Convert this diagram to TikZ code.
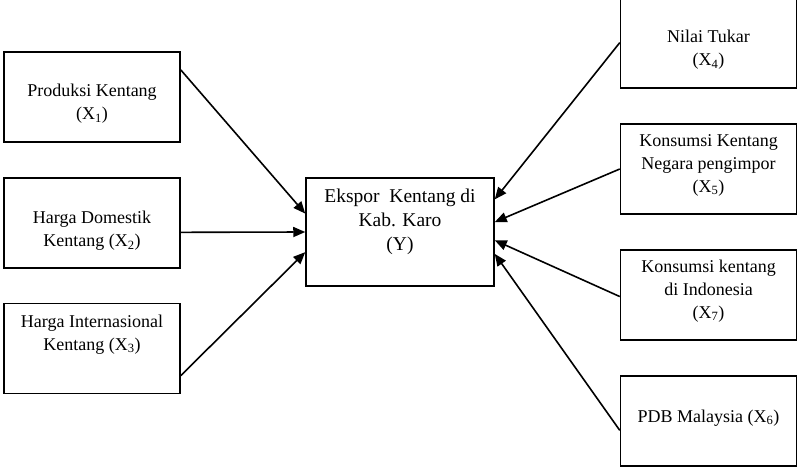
\documentclass[tikz,border=0pt]{standalone}
\usepackage{fontspec}
\setmainfont{Liberation Serif}
\usetikzlibrary{arrows.meta,calc}

\begin{document}
\begin{tikzpicture}[
    x=1pt, y=-1pt,
    var/.style={rectangle, draw, line width=1.5pt, inner sep=0pt,
        minimum width=176pt, minimum height=90pt},
    target/.style={rectangle, draw, line width=1.5pt, inner sep=0pt,
        minimum width=188pt, minimum height=108pt},
    caption/.style={align=center, inner sep=0pt, font=\fontsize{18}{23}\selectfont},
    link/.style={line width=1.6pt, -{Triangle[length=12pt,width=10pt]}}
]
% Frame
\clip (0,0) rectangle (802,468);

% Left variables
\node[var] (x1) at (92,97) {};
\node[var] (x2) at (92,223) {};
\node[var] (x3) at (92,348.5) {};
\node[caption] (x1t) at ($(x1)+(0,7)$) {Produksi Kentang\\(X\textsubscript{1})};
\node[caption] (x2t) at ($(x2)+(0,8)$) {Harga Domestik\\Kentang (X\textsubscript{2})};
\node[caption] (x3t) at ($(x3)+(0,-14)$) {Harga Internasional\\Kentang (X\textsubscript{3})};

% Dependent variable
\node[target] (y) at (400,232) {};
\node[caption, font=\fontsize{19.5}{24}\selectfont] (yt) at ($(y)+(0,-10)$)
    {Ekspor\ \ Kentang di\\Kab. Karo\\(Y)};

% Right variables
\node[var, minimum height=100pt] (x4) at (708.5,38) {};
\node[var] (x5) at (708.5,169) {};
\node[var] (x7) at (708.5,295) {};
\node[var] (x6) at (708.5,421) {};
\node[caption] (x4t) at ($(x4)+(0,12)$) {Nilai Tukar\\(X\textsubscript{4})};
\node[caption] (x5t) at ($(x5)+(0,-4)$) {Konsumsi Kentang\\Negara pengimpor\\(X\textsubscript{5})};
\node[caption] (x7t) at ($(x7)+(0,-4)$) {Konsumsi kentang\\di Indonesia\\(X\textsubscript{7})};
\node[caption] (x6t) at ($(x6)+(0,-3)$) {PDB Malaysia (X\textsubscript{6})};

% Arrows
\draw[link] (x1.17) -- (y.169);
\draw[link] (x2.-6) -- (y.west);
\draw[link] (x3.-17) -- (y.192);
\draw[link] (x4.183) -- (y.19);
\draw[link] (x5.west) -- (y.6);
\draw[link] (x7.181) -- (y.-5);
\draw[link] (x6.186) -- (y.-13);
\end{tikzpicture}
\end{document}
